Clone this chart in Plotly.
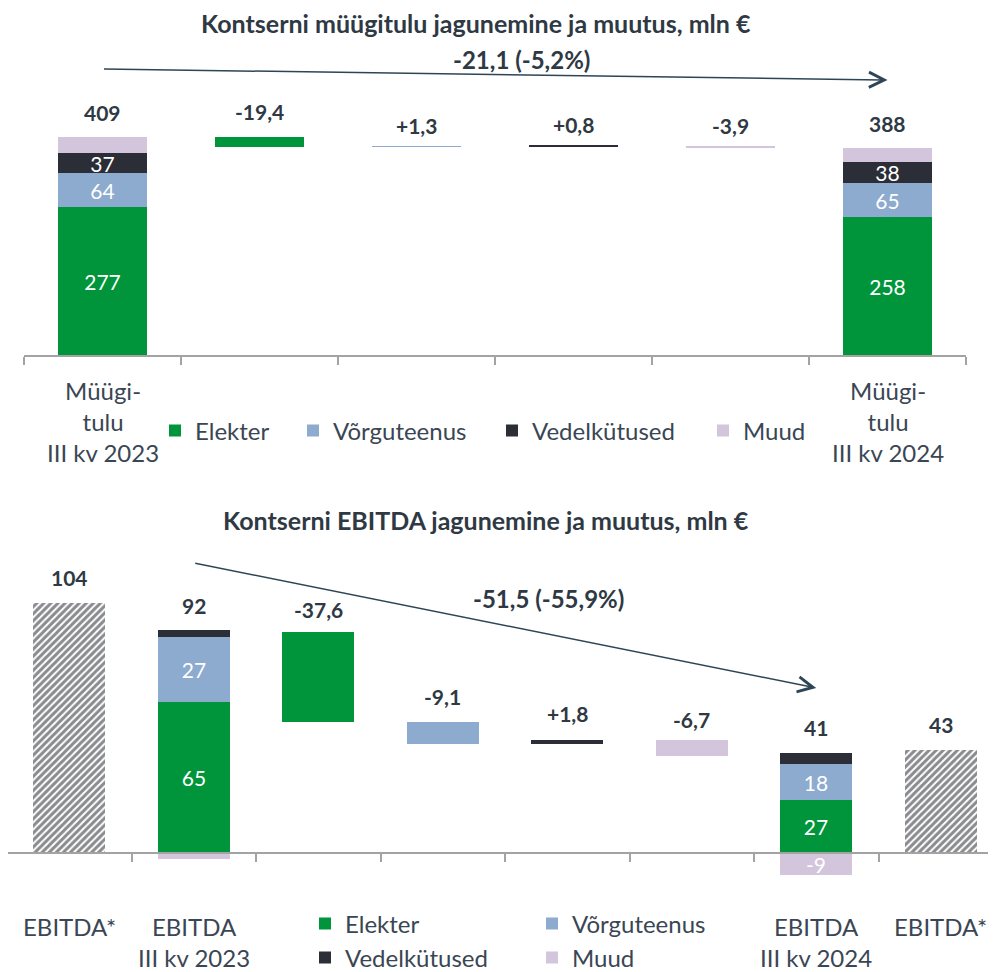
import plotly.graph_objects as go

# ---------------- data ----------------
series = ["Elekter", "Võrguteenus", "Vedelkütused", "Muud"]

# Top chart: sales revenue (mln €)
sales_categories = ["Müügi-<br>tulu<br>III kv 2023", "", "", "", "", "Müügi-<br>tulu<br>III kv 2024"]
sales_2023 = [277, 64, 37, 31]
sales_2024 = [258, 65, 38, 27]
sales_2023_labels = ["277", "64", "37", ""]
sales_2024_labels = ["258", "65", "38", ""]
sales_change = [-19.4, 1.3, 0.8, -3.9]
sales_change_labels = ["-19,4", "+1,3", "+0,8", "-3,9"]
sales_total_labels = ["409", "388"]
sales_title = "Kontserni müügitulu jagunemine ja muutus, mln €"
sales_arrow_label = "-21,1 (-5,2%)"

# Bottom chart: EBITDA (mln €)
ebitda_categories = ["EBITDA*", "EBITDA<br>III kv 2023", "", "", "", "", "EBITDA<br>III kv 2024", "EBITDA*"]
ebitda_star = [104, 43]
ebitda_star_labels = ["104", "43"]
ebitda_2023 = [62.8, 27.0, 2.8, -2.5]
ebitda_2024 = [22.0, 15.0, 4.6, -9.2]
ebitda_2023_labels = ["65", "27", "", ""]
ebitda_2024_labels = ["27", "18", "", "-9"]
ebitda_start = 92.0
ebitda_change = [-37.6, -9.1, 1.8, -6.7]
ebitda_change_labels = ["-37,6", "-9,1", "+1,8", "-6,7"]
ebitda_total_labels = ["92", "41"]
ebitda_title = "Kontserni EBITDA jagunemine ja muutus, mln €"
ebitda_arrow_label = "-51,5 (-55,9%)"

# ---------------- style ----------------
W, H = 996, 972
OFF = 8  # page body margin: figure starts 8px from the window corner
COLORS = ["#00953A", "#8DAACF", "#2B2E37", "#D3C5DC"]
TEXT = "#2F3944"
LABEL = "#3A4654"
AXIS = "#A3A3A3"
ARROW = "#2E4556"
FONT = "Lato"


def fx(p):  # screen pixel -> paper x
    return (p - OFF) / W


def fy(p):  # screen pixel -> paper y
    return 1 - (p - OFF) / H


# pixel geometry (screen pixels) of the two panels
TOP_ZERO, TOP_SCALE, TOP_UP = 355, 0.534, 40
TOP_LEFT, TOP_RIGHT = 24, 966
BOT_ZERO, BOT_SCALE, BOT_UP, BOT_DOWN = 853, 2.404, 540, 885
BOT_LEFT, BOT_STEP = 7, 124.5
# legend anchor points (screen pixels): one legend per entry
TOP_LEGEND_POS = [(155, 431), (293, 431), (492, 431), (703, 431)]
BOT_LEGEND_POS = [(305, 924), (532, 924), (305, 958), (532, 958)]
# vertical offsets (px) of the change labels above their bars
SALES_CHANGE_SHIFT = [25, 21, 21, 20]
EBITDA_CHANGE_SHIFT = [22, 26, 26, 20]

fig = go.Figure()


def stack_bases(vals):
    pos, bases = 0.0, []
    for v in vals:
        if v >= 0:
            bases.append(pos)
            pos += v
        else:
            bases.append(0.0)
    return bases, pos


legend_ids = ["legend"] + ["legend%d" % k for k in range(2, 9)]

# ---- top chart traces ----
s23_base, s23_top = stack_bases(sales_2023)
s24_base, s24_top = stack_bases(sales_2024)
run = [sum(sales_2023)]
for c in sales_change:
    run.append(run[-1] + c)

for i, name in enumerate(series):
    fig.add_trace(go.Bar(
        x=[0, 1 + i, 5],
        y=[sales_2023[i], sales_change[i], sales_2024[i]],
        base=[s23_base[i], run[i], s24_base[i]],
        text=[sales_2023_labels[i], "", sales_2024_labels[i]],
        textposition="inside", insidetextanchor="middle", textangle=0,
        constraintext="none",
        textfont=dict(family=FONT, size=21, color="white"),
        marker=dict(color=COLORS[i], line=dict(width=0)),
        width=0.57, name=name, legend=legend_ids[i],
        xaxis="x", yaxis="y", hoverinfo="skip",
    ))

# ---- bottom chart traces ----
e23_base, e23_top = stack_bases(ebitda_2023)
e24_base, e24_top = stack_bases(ebitda_2024)
erun = [ebitda_start]
for c in ebitda_change:
    erun.append(erun[-1] + c)

fig.add_trace(go.Bar(
    x=[0, 7], y=ebitda_star, width=0.58, showlegend=False,
    marker=dict(color="white", line=dict(width=0),
                pattern=dict(shape="/", fgcolor="#16181E", bgcolor="white",
                             size=5, solidity=0.6)),
    xaxis="x2", yaxis="y2", hoverinfo="skip",
))

for i, name in enumerate(series):
    fig.add_trace(go.Bar(
        x=[1, 2 + i, 6],
        y=[ebitda_2023[i], ebitda_change[i], ebitda_2024[i]],
        base=[e23_base[i], erun[i], e24_base[i]],
        text=[ebitda_2023_labels[i], "", ebitda_2024_labels[i]],
        textposition="inside", insidetextanchor="middle", textangle=0,
        constraintext="none",
        textfont=dict(family=FONT, size=21, color="white"),
        marker=dict(color=COLORS[i], line=dict(width=0)),
        width=0.58, name=name, legend=legend_ids[4 + i],
        xaxis="x2", yaxis="y2", hoverinfo="skip",
    ))

# ---- value labels ----
ann = []


def vlabel(x, y, text, xref, yref, shift):
    ann.append(dict(x=x, y=y, xref=xref, yref=yref, text=text, showarrow=False,
                    xanchor="center", yanchor="middle", yshift=shift,
                    font=dict(family=FONT, size=21, color=TEXT, weight="bold")))


vlabel(0, s23_top, sales_total_labels[0], "x", "y", 24)
vlabel(5, s24_top, sales_total_labels[1], "x", "y", 24)
for i, t in enumerate(sales_change_labels):
    vlabel(1 + i, max(run[i], run[i + 1]), t, "x", "y", SALES_CHANGE_SHIFT[i])

vlabel(0, ebitda_star[0], ebitda_star_labels[0], "x2", "y2", 25)
vlabel(7, ebitda_star[1], ebitda_star_labels[1], "x2", "y2", 25)
vlabel(1, e23_top, ebitda_total_labels[0], "x2", "y2", 25)
vlabel(6, e24_top, ebitda_total_labels[1], "x2", "y2", 25)
for i, t in enumerate(ebitda_change_labels):
    vlabel(2 + i, max(erun[i], erun[i + 1]), t, "x2", "y2", EBITDA_CHANGE_SHIFT[i])

# ---- category labels ----
for i, t in enumerate(sales_categories):
    if t:
        ann.append(dict(x=i, y=fy(374), xref="x", yref="paper", text=t, showarrow=False,
                        xanchor="center", yanchor="top",
                        font=dict(family=FONT, size=24, color=LABEL)))
for i, t in enumerate(ebitda_categories):
    if t:
        ann.append(dict(x=i, y=fy(910), xref="x2", yref="paper", text=t, showarrow=False,
                        xanchor="center", yanchor="top",
                        font=dict(family=FONT, size=24, color=LABEL)))

# ---- titles ----
title_font = dict(family=FONT, size=25, color=TEXT, weight="bold")
ann.append(dict(x=fx(476), y=fy(23), xref="paper", yref="paper", text=sales_title,
                showarrow=False, xanchor="center", yanchor="middle", font=title_font))
ann.append(dict(x=fx(486), y=fy(520), xref="paper", yref="paper", text=ebitda_title,
                showarrow=False, xanchor="center", yanchor="middle", font=title_font))

# ---- change arrows ----
arrow_font = dict(family=FONT, size=24, color=TEXT, weight="bold")
ann.append(dict(x=5, y=(TOP_ZERO - 80) / TOP_SCALE, ax=0, ay=(TOP_ZERO - 69) / TOP_SCALE,
                xref="x", yref="y", axref="x", ayref="y", text="", showarrow=True,
                arrowhead=5, arrowsize=2, arrowwidth=1.5, arrowcolor=ARROW))
ann.append(dict(x=fx(521), y=fy(59), xref="paper", yref="paper", text=sales_arrow_label,
                showarrow=False, xanchor="center", yanchor="middle", font=arrow_font))
ann.append(dict(x=6, y=(BOT_ZERO - 688) / BOT_SCALE, ax=1, ay=(BOT_ZERO - 563) / BOT_SCALE,
                xref="x2", yref="y2", axref="x2", ayref="y2", text="", showarrow=True,
                arrowhead=5, arrowsize=2, arrowwidth=1.5, arrowcolor=ARROW))
ann.append(dict(x=fx(548), y=fy(598), xref="paper", yref="paper", text=ebitda_arrow_label,
                showarrow=False, xanchor="center", yanchor="middle", font=arrow_font))

axis_common = dict(showticklabels=False, ticks="outside", ticklen=8, tickwidth=1.5,
                   tickcolor=AXIS, showline=True, linecolor=AXIS, linewidth=1.5,
                   showgrid=False, zeroline=False, fixedrange=True)
n_top = len(sales_categories)
n_bot = len(ebitda_categories)
legend_font = dict(family=FONT, size=24, color=LABEL)

legends = {}
for k, (lx, ly) in enumerate(TOP_LEGEND_POS + BOT_LEGEND_POS):
    legends[legend_ids[k]] = dict(orientation="h", x=fx(lx), xanchor="left",
                                  y=fy(ly), yanchor="middle", font=legend_font,
                                  bgcolor="rgba(0,0,0,0)")

fig.update_layout(
    width=W, height=H, margin=dict(l=0, r=0, t=0, b=0, autoexpand=False),
    paper_bgcolor="white", plot_bgcolor="rgba(0,0,0,0)",
    barmode="overlay", bargap=0,
    xaxis=dict(domain=[fx(TOP_LEFT), fx(TOP_RIGHT)], range=[-0.5, n_top - 0.5],
               tickvals=[k - 0.5 for k in range(n_top + 1)], anchor="y", **axis_common),
    yaxis=dict(domain=[fy(TOP_ZERO), fy(TOP_UP)], range=[0, (TOP_ZERO - TOP_UP) / TOP_SCALE],
               visible=False, fixedrange=True, anchor="x"),
    xaxis2=dict(domain=[0, fx(996)],
                range=[-0.5 + (OFF - BOT_LEFT) / BOT_STEP, -0.5 + (996 - BOT_LEFT) / BOT_STEP],
                tickvals=[k - 0.5 for k in range(n_bot)], anchor="free",
                position=fy(BOT_ZERO), **axis_common),
    yaxis2=dict(domain=[fy(BOT_DOWN), fy(BOT_UP)],
                range=[-(BOT_DOWN - BOT_ZERO) / BOT_SCALE, (BOT_ZERO - BOT_UP) / BOT_SCALE],
                visible=False, fixedrange=True, anchor="x2"),
    annotations=ann,
    showlegend=True,
    **legends,
)

fig.write_html("out.html")
